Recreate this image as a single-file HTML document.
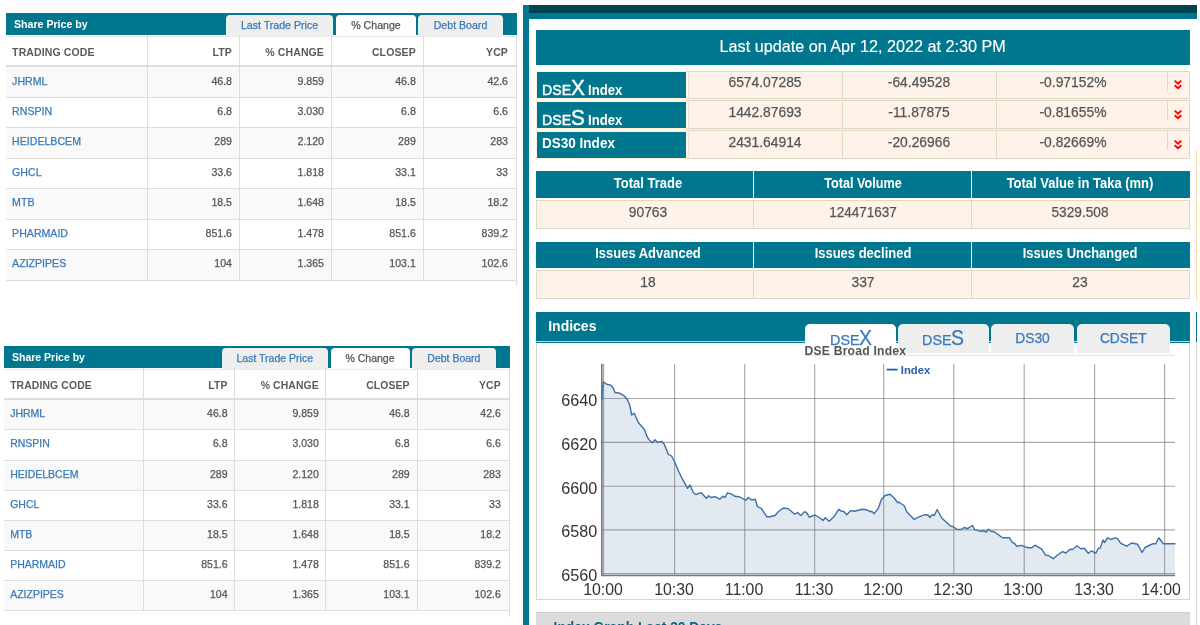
<!DOCTYPE html>
<html lang="en">
<head>
<meta charset="utf-8">
<title>DSE Share Price and Indices</title>
<style>
html,body{margin:0;padding:0;background:#fff}
body{width:1200px;height:625px;position:relative;overflow:hidden;font-family:"Liberation Sans",sans-serif;color:#555}
div,svg{position:absolute;box-sizing:border-box}
.sp,.rp{left:0;top:0;width:0;height:0}
.t{line-height:20px;height:20px;white-space:nowrap;color:#555;-webkit-text-stroke:0.25px}
.bd,.h,.ttl,.ct,.ig,.lg,.ax,.w.bd{-webkit-text-stroke:0}
.ttl{color:#fff;font-weight:bold}
.tabt{color:#3a7ab8}
.tabt.act{color:#555}
.h{font-weight:bold;color:#5c5a59;letter-spacing:0.12px}
.code,.lk{color:#3a7ab8}
.w{color:#fff;-webkit-text-stroke:0.45px}
.bd{font-weight:bold}
.w.lu{-webkit-text-stroke:0.15px}
.d1{font-size:13.8px}
.d3{font-size:12.9px;font-weight:bold}
.t1{font-size:13.6px}
.ct{font-weight:bold;letter-spacing:0.2px;color:#555}
.ig{font-weight:bold;color:#00688c}
.lg{font-weight:bold;color:#2a62ad}
.ax{color:#333}
.chart{left:0;top:0}
</style>
</head>
<body>
<div class="sp ta">
<div style="left:6px;top:13px;width:511px;height:22px;background:#00778f;"></div>
<div class="t ttl" style="left:14px;top:14px;font-size:10.6px;">Share Price by</div>
<div style="left:226px;top:15px;width:107px;height:21px;background:#eee;border-radius:4px 4px 0 0"></div>
<div class="t tabt" style="left:79.5px;width:400px;text-align:center;top:15px;font-size:10.6px;">Last Trade Price</div>
<div style="left:336px;top:15px;width:80px;height:21px;background:#fff;border-radius:4px 4px 0 0"></div>
<div class="t tabt act" style="left:176px;width:400px;text-align:center;top:15px;font-size:10.6px;">% Change</div>
<div style="left:418px;top:15px;width:85px;height:21px;background:#eee;border-radius:4px 4px 0 0"></div>
<div class="t tabt" style="left:260.5px;width:400px;text-align:center;top:15px;font-size:10.6px;">Debt Board</div>
<div style="left:6px;top:36px;width:510.5px;height:1px;background:#ebebeb;"></div>
<div style="left:6px;top:66.3px;width:510.5px;height:31px;background:#f9f9f9;"></div>
<div style="left:6px;top:127.6px;width:510.5px;height:30.4px;background:#f9f9f9;"></div>
<div style="left:6px;top:188.4px;width:510.5px;height:30.8px;background:#f9f9f9;"></div>
<div style="left:6px;top:249.6px;width:510.5px;height:30.4px;background:#f9f9f9;"></div>
<div style="left:6px;top:65px;width:510.5px;height:2px;background:#dedede;"></div>
<div style="left:6px;top:96.8px;width:510.5px;height:1px;background:#ddd;"></div>
<div style="left:6px;top:127.1px;width:510.5px;height:1px;background:#ddd;"></div>
<div style="left:6px;top:157.5px;width:510.5px;height:1px;background:#ddd;"></div>
<div style="left:6px;top:187.9px;width:510.5px;height:1px;background:#ddd;"></div>
<div style="left:6px;top:218.7px;width:510.5px;height:1px;background:#ddd;"></div>
<div style="left:6px;top:249.1px;width:510.5px;height:1px;background:#ddd;"></div>
<div style="left:6px;top:279.5px;width:510.5px;height:1px;background:#ddd;"></div>
<div style="left:146.8px;top:35px;width:1px;height:245px;background:#ddd;"></div>
<div style="left:238.8px;top:35px;width:1px;height:245px;background:#ddd;"></div>
<div style="left:330.8px;top:35px;width:1px;height:245px;background:#ddd;"></div>
<div style="left:422.8px;top:35px;width:1px;height:245px;background:#ddd;"></div>
<div style="left:516px;top:35px;width:1px;height:251px;background:#ddd;"></div>
<div class="t h" style="left:12.1px;top:42px;font-size:10.5px;">TRADING CODE</div>
<div class="t h" style="left:-68px;width:300px;text-align:right;top:42px;font-size:10.5px;">LTP</div>
<div class="t h" style="left:24px;width:300px;text-align:right;top:42px;font-size:10.5px;">% CHANGE</div>
<div class="t h" style="left:115.8px;width:300px;text-align:right;top:42px;font-size:10.5px;">CLOSEP</div>
<div class="t h" style="left:208px;width:300px;text-align:right;top:42px;font-size:10.5px;">YCP</div>
<div class="t code" style="left:12.1px;top:71px;font-size:10.6px;">JHRML</div>
<div class="t n" style="left:-68px;width:300px;text-align:right;top:71px;font-size:10.6px;">46.8</div>
<div class="t n" style="left:24px;width:300px;text-align:right;top:71px;font-size:10.6px;">9.859</div>
<div class="t n" style="left:115.8px;width:300px;text-align:right;top:71px;font-size:10.6px;">46.8</div>
<div class="t n" style="left:208px;width:300px;text-align:right;top:71px;font-size:10.6px;">42.6</div>
<div class="t code" style="left:12.1px;top:101px;font-size:10.6px;">RNSPIN</div>
<div class="t n" style="left:-68px;width:300px;text-align:right;top:101px;font-size:10.6px;">6.8</div>
<div class="t n" style="left:24px;width:300px;text-align:right;top:101px;font-size:10.6px;">3.030</div>
<div class="t n" style="left:115.8px;width:300px;text-align:right;top:101px;font-size:10.6px;">6.8</div>
<div class="t n" style="left:208px;width:300px;text-align:right;top:101px;font-size:10.6px;">6.6</div>
<div class="t code" style="left:12.1px;top:131px;font-size:10.6px;">HEIDELBCEM</div>
<div class="t n" style="left:-68px;width:300px;text-align:right;top:131px;font-size:10.6px;">289</div>
<div class="t n" style="left:24px;width:300px;text-align:right;top:131px;font-size:10.6px;">2.120</div>
<div class="t n" style="left:115.8px;width:300px;text-align:right;top:131px;font-size:10.6px;">289</div>
<div class="t n" style="left:208px;width:300px;text-align:right;top:131px;font-size:10.6px;">283</div>
<div class="t code" style="left:12.1px;top:162px;font-size:10.6px;">GHCL</div>
<div class="t n" style="left:-68px;width:300px;text-align:right;top:162px;font-size:10.6px;">33.6</div>
<div class="t n" style="left:24px;width:300px;text-align:right;top:162px;font-size:10.6px;">1.818</div>
<div class="t n" style="left:115.8px;width:300px;text-align:right;top:162px;font-size:10.6px;">33.1</div>
<div class="t n" style="left:208px;width:300px;text-align:right;top:162px;font-size:10.6px;">33</div>
<div class="t code" style="left:12.1px;top:192px;font-size:10.6px;">MTB</div>
<div class="t n" style="left:-68px;width:300px;text-align:right;top:192px;font-size:10.6px;">18.5</div>
<div class="t n" style="left:24px;width:300px;text-align:right;top:192px;font-size:10.6px;">1.648</div>
<div class="t n" style="left:115.8px;width:300px;text-align:right;top:192px;font-size:10.6px;">18.5</div>
<div class="t n" style="left:208px;width:300px;text-align:right;top:192px;font-size:10.6px;">18.2</div>
<div class="t code" style="left:12.1px;top:223px;font-size:10.6px;">PHARMAID</div>
<div class="t n" style="left:-68px;width:300px;text-align:right;top:223px;font-size:10.6px;">851.6</div>
<div class="t n" style="left:24px;width:300px;text-align:right;top:223px;font-size:10.6px;">1.478</div>
<div class="t n" style="left:115.8px;width:300px;text-align:right;top:223px;font-size:10.6px;">851.6</div>
<div class="t n" style="left:208px;width:300px;text-align:right;top:223px;font-size:10.6px;">839.2</div>
<div class="t code" style="left:12.1px;top:253px;font-size:10.6px;">AZIZPIPES</div>
<div class="t n" style="left:-68px;width:300px;text-align:right;top:253px;font-size:10.6px;">104</div>
<div class="t n" style="left:24px;width:300px;text-align:right;top:253px;font-size:10.6px;">1.365</div>
<div class="t n" style="left:115.8px;width:300px;text-align:right;top:253px;font-size:10.6px;">103.1</div>
<div class="t n" style="left:208px;width:300px;text-align:right;top:253px;font-size:10.6px;">102.6</div>
</div>
<div class="sp tb">
<div style="left:4.25px;top:346px;width:505.75px;height:22px;background:#00778f;"></div>
<div class="t ttl" style="left:12px;top:347px;font-size:10.5px;">Share Price by</div>
<div style="left:221.5px;top:348px;width:106.5px;height:21px;background:#eee;border-radius:4px 4px 0 0"></div>
<div class="t tabt" style="left:74.75px;width:400px;text-align:center;top:348px;font-size:10.5px;">Last Trade Price</div>
<div style="left:330.5px;top:348px;width:79px;height:21px;background:#fff;border-radius:4px 4px 0 0"></div>
<div class="t tabt act" style="left:170px;width:400px;text-align:center;top:348px;font-size:10.5px;">% Change</div>
<div style="left:412px;top:348px;width:83.8px;height:21px;background:#eee;border-radius:4px 4px 0 0"></div>
<div class="t tabt" style="left:253.9px;width:400px;text-align:center;top:348px;font-size:10.5px;">Debt Board</div>
<div style="left:4.25px;top:369px;width:504.75px;height:1px;background:#ebebeb;"></div>
<div style="left:4.25px;top:399.5px;width:504.75px;height:30.1px;background:#f9f9f9;"></div>
<div style="left:4.25px;top:460px;width:504.75px;height:30.3px;background:#f9f9f9;"></div>
<div style="left:4.25px;top:520.3px;width:504.75px;height:30px;background:#f9f9f9;"></div>
<div style="left:4.25px;top:580.4px;width:504.75px;height:30.1px;background:#f9f9f9;"></div>
<div style="left:4.25px;top:398px;width:504.75px;height:2px;background:#dedede;"></div>
<div style="left:4.25px;top:429.1px;width:504.75px;height:1px;background:#ddd;"></div>
<div style="left:4.25px;top:459.5px;width:504.75px;height:1px;background:#ddd;"></div>
<div style="left:4.25px;top:489.8px;width:504.75px;height:1px;background:#ddd;"></div>
<div style="left:4.25px;top:519.8px;width:504.75px;height:1px;background:#ddd;"></div>
<div style="left:4.25px;top:549.8px;width:504.75px;height:1px;background:#ddd;"></div>
<div style="left:4.25px;top:579.9px;width:504.75px;height:1px;background:#ddd;"></div>
<div style="left:4.25px;top:610px;width:504.75px;height:1px;background:#ddd;"></div>
<div style="left:143px;top:368px;width:1px;height:242.5px;background:#ddd;"></div>
<div style="left:234.4px;top:368px;width:1px;height:242.5px;background:#ddd;"></div>
<div style="left:325.4px;top:368px;width:1px;height:242.5px;background:#ddd;"></div>
<div style="left:417px;top:368px;width:1px;height:242.5px;background:#ddd;"></div>
<div style="left:508.5px;top:368px;width:1px;height:248.5px;background:#ddd;"></div>
<div class="t h" style="left:10.15px;top:376px;font-size:10.4px;">TRADING CODE</div>
<div class="t h" style="left:-72.5px;width:300px;text-align:right;top:376px;font-size:10.4px;">LTP</div>
<div class="t h" style="left:18.8px;width:300px;text-align:right;top:376px;font-size:10.4px;">% CHANGE</div>
<div class="t h" style="left:109.6px;width:300px;text-align:right;top:376px;font-size:10.4px;">CLOSEP</div>
<div class="t h" style="left:200.8px;width:300px;text-align:right;top:376px;font-size:10.4px;">YCP</div>
<div class="t code" style="left:10.15px;top:403px;font-size:10.5px;">JHRML</div>
<div class="t n" style="left:-72.5px;width:300px;text-align:right;top:403px;font-size:10.5px;">46.8</div>
<div class="t n" style="left:18.8px;width:300px;text-align:right;top:403px;font-size:10.5px;">9.859</div>
<div class="t n" style="left:109.6px;width:300px;text-align:right;top:403px;font-size:10.5px;">46.8</div>
<div class="t n" style="left:200.8px;width:300px;text-align:right;top:403px;font-size:10.5px;">42.6</div>
<div class="t code" style="left:10.15px;top:433px;font-size:10.5px;">RNSPIN</div>
<div class="t n" style="left:-72.5px;width:300px;text-align:right;top:433px;font-size:10.5px;">6.8</div>
<div class="t n" style="left:18.8px;width:300px;text-align:right;top:433px;font-size:10.5px;">3.030</div>
<div class="t n" style="left:109.6px;width:300px;text-align:right;top:433px;font-size:10.5px;">6.8</div>
<div class="t n" style="left:200.8px;width:300px;text-align:right;top:433px;font-size:10.5px;">6.6</div>
<div class="t code" style="left:10.15px;top:464px;font-size:10.5px;">HEIDELBCEM</div>
<div class="t n" style="left:-72.5px;width:300px;text-align:right;top:464px;font-size:10.5px;">289</div>
<div class="t n" style="left:18.8px;width:300px;text-align:right;top:464px;font-size:10.5px;">2.120</div>
<div class="t n" style="left:109.6px;width:300px;text-align:right;top:464px;font-size:10.5px;">289</div>
<div class="t n" style="left:200.8px;width:300px;text-align:right;top:464px;font-size:10.5px;">283</div>
<div class="t code" style="left:10.15px;top:494px;font-size:10.5px;">GHCL</div>
<div class="t n" style="left:-72.5px;width:300px;text-align:right;top:494px;font-size:10.5px;">33.6</div>
<div class="t n" style="left:18.8px;width:300px;text-align:right;top:494px;font-size:10.5px;">1.818</div>
<div class="t n" style="left:109.6px;width:300px;text-align:right;top:494px;font-size:10.5px;">33.1</div>
<div class="t n" style="left:200.8px;width:300px;text-align:right;top:494px;font-size:10.5px;">33</div>
<div class="t code" style="left:10.15px;top:524px;font-size:10.5px;">MTB</div>
<div class="t n" style="left:-72.5px;width:300px;text-align:right;top:524px;font-size:10.5px;">18.5</div>
<div class="t n" style="left:18.8px;width:300px;text-align:right;top:524px;font-size:10.5px;">1.648</div>
<div class="t n" style="left:109.6px;width:300px;text-align:right;top:524px;font-size:10.5px;">18.5</div>
<div class="t n" style="left:200.8px;width:300px;text-align:right;top:524px;font-size:10.5px;">18.2</div>
<div class="t code" style="left:10.15px;top:554px;font-size:10.5px;">PHARMAID</div>
<div class="t n" style="left:-72.5px;width:300px;text-align:right;top:554px;font-size:10.5px;">851.6</div>
<div class="t n" style="left:18.8px;width:300px;text-align:right;top:554px;font-size:10.5px;">1.478</div>
<div class="t n" style="left:109.6px;width:300px;text-align:right;top:554px;font-size:10.5px;">851.6</div>
<div class="t n" style="left:200.8px;width:300px;text-align:right;top:554px;font-size:10.5px;">839.2</div>
<div class="t code" style="left:10.15px;top:584px;font-size:10.5px;">AZIZPIPES</div>
<div class="t n" style="left:-72.5px;width:300px;text-align:right;top:584px;font-size:10.5px;">104</div>
<div class="t n" style="left:18.8px;width:300px;text-align:right;top:584px;font-size:10.5px;">1.365</div>
<div class="t n" style="left:109.6px;width:300px;text-align:right;top:584px;font-size:10.5px;">103.1</div>
<div class="t n" style="left:200.8px;width:300px;text-align:right;top:584px;font-size:10.5px;">102.6</div>
</div>
<div class="rp">
<div style="left:523px;top:5px;width:6px;height:620px;background:#00778f;"></div>
<div style="left:529px;top:5px;width:668px;height:8px;background:#00444f;"></div>
<div style="left:529px;top:13px;width:668px;height:6px;background:#00778f;"></div>
<div style="left:536px;top:30px;width:654px;height:35px;background:#00778f;"></div>
<div class="t w lu" style="left:662.7px;width:400px;text-align:center;top:36px;font-size:16.2px;">Last update on Apr 12, 2022 at 2:30 PM</div>
<div style="left:688px;top:99px;width:502px;height:1px;background:#f3f1e8;"></div>
<div style="left:688px;top:129px;width:502px;height:1px;background:#f3f1e8;"></div>
<div style="left:536px;top:99px;width:152px;height:1px;background:#fffbf0;"></div>
<div style="left:536px;top:129px;width:152px;height:1px;background:#fffbf0;"></div>
<div style="left:536px;top:71px;width:654px;height:28px;background:#fff2e8;border:1px solid #ddd9c5"></div>
<div style="left:536px;top:71px;width:150px;height:28px;background:#fcf1de;"></div>
<div style="left:537px;top:72px;width:149px;height:26px;background:#00778f;"></div>
<div style="left:686px;top:72px;width:2px;height:26px;background:#fffaf0;"></div>
<div style="left:688px;top:72px;width:1px;height:26px;background:#ebe6d6;"></div>
<div class="t w" style="left:541.6px;top:80px;font-size:14.8px;transform:scaleX(0.955);transform-origin:0 0;">DSE</div>
<div class="t w" style="left:571px;top:78px;font-size:22px;transform:scaleX(0.94);transform-origin:0 0;">X</div>
<div class="t w bd" style="left:587.6px;top:80px;font-size:14.4px;transform:scaleX(0.91);transform-origin:0 0;">Index</div>
<div class="t v" style="left:564.6px;width:400px;text-align:center;top:72px;font-size:14.4px;transform:scaleX(0.962);transform-origin:50% 0;">6574.07285</div>
<div class="t v" style="left:719.1px;width:400px;text-align:center;top:72px;font-size:14.4px;transform:scaleX(0.962);transform-origin:50% 0;">-64.49528</div>
<div class="t v" style="left:873.2px;width:400px;text-align:center;top:72px;font-size:14.4px;transform:scaleX(0.962);transform-origin:50% 0;">-0.97152%</div>
<div style="left:841.9px;top:72px;width:1px;height:26px;background:#ddd9c5;"></div>
<div style="left:995.9px;top:72px;width:1px;height:26px;background:#ddd9c5;"></div>
<div style="left:1167px;top:72px;width:1px;height:19px;background:#ddd9c5;"></div>
<svg style="left:1171.9px;top:79px" width="12" height="12" viewBox="0 0 12 12"><path d="M2.7 1.6 L6 4.7 L9.3 1.6 M2.7 6.2 L6 9.3 L9.3 6.2" fill="none" stroke="#f00" stroke-width="1.9"/></svg>
<div style="left:536px;top:100px;width:654px;height:29px;background:#fff2e8;border:1px solid #ddd9c5"></div>
<div style="left:536px;top:100px;width:150px;height:29px;background:#fcf1de;"></div>
<div style="left:537px;top:102px;width:149px;height:26px;background:#00778f;"></div>
<div style="left:686px;top:101px;width:2px;height:27px;background:#fffaf0;"></div>
<div style="left:688px;top:101px;width:1px;height:27px;background:#ebe6d6;"></div>
<div class="t w" style="left:541.6px;top:110px;font-size:14.8px;transform:scaleX(0.955);transform-origin:0 0;">DSE</div>
<div class="t w" style="left:571px;top:108px;font-size:22px;transform:scaleX(0.94);transform-origin:0 0;">S</div>
<div class="t w bd" style="left:587.6px;top:110px;font-size:14.4px;transform:scaleX(0.91);transform-origin:0 0;">Index</div>
<div class="t v" style="left:564.6px;width:400px;text-align:center;top:102px;font-size:14.4px;transform:scaleX(0.962);transform-origin:50% 0;">1442.87693</div>
<div class="t v" style="left:719.1px;width:400px;text-align:center;top:102px;font-size:14.4px;transform:scaleX(0.962);transform-origin:50% 0;">-11.87875</div>
<div class="t v" style="left:873.2px;width:400px;text-align:center;top:102px;font-size:14.4px;transform:scaleX(0.962);transform-origin:50% 0;">-0.81655%</div>
<div style="left:841.9px;top:101px;width:1px;height:27px;background:#ddd9c5;"></div>
<div style="left:995.9px;top:101px;width:1px;height:27px;background:#ddd9c5;"></div>
<div style="left:1167px;top:101px;width:1px;height:19px;background:#ddd9c5;"></div>
<svg style="left:1171.9px;top:109px" width="12" height="12" viewBox="0 0 12 12"><path d="M2.7 1.6 L6 4.7 L9.3 1.6 M2.7 6.2 L6 9.3 L9.3 6.2" fill="none" stroke="#f00" stroke-width="1.9"/></svg>
<div style="left:536px;top:130px;width:654px;height:29px;background:#fff2e8;border:1px solid #ddd9c5"></div>
<div style="left:536px;top:130px;width:150px;height:29px;background:#fcf1de;"></div>
<div style="left:537px;top:132px;width:149px;height:26px;background:#00778f;"></div>
<div style="left:686px;top:131px;width:2px;height:27px;background:#fffaf0;"></div>
<div style="left:688px;top:131px;width:1px;height:27px;background:#ebe6d6;"></div>
<div class="t w bd" style="left:541.5px;top:133px;font-size:14.4px;transform:scaleX(0.94);transform-origin:0 0;">DS30 Index</div>
<div class="t v" style="left:564.6px;width:400px;text-align:center;top:132px;font-size:14.4px;transform:scaleX(0.962);transform-origin:50% 0;">2431.64914</div>
<div class="t v" style="left:719.1px;width:400px;text-align:center;top:132px;font-size:14.4px;transform:scaleX(0.962);transform-origin:50% 0;">-20.26966</div>
<div class="t v" style="left:873.2px;width:400px;text-align:center;top:132px;font-size:14.4px;transform:scaleX(0.962);transform-origin:50% 0;">-0.82669%</div>
<div style="left:841.9px;top:131px;width:1px;height:27px;background:#ddd9c5;"></div>
<div style="left:995.9px;top:131px;width:1px;height:27px;background:#ddd9c5;"></div>
<div style="left:1167px;top:131px;width:1px;height:19px;background:#ddd9c5;"></div>
<svg style="left:1171.9px;top:139px" width="12" height="12" viewBox="0 0 12 12"><path d="M2.7 1.6 L6 4.7 L9.3 1.6 M2.7 6.2 L6 9.3 L9.3 6.2" fill="none" stroke="#f00" stroke-width="1.9"/></svg>
<div style="left:536px;top:171px;width:217px;height:27px;background:#00778f;"></div>
<div class="t w bd" style="left:448.3px;width:400px;text-align:center;top:173px;font-size:14.2px;transform:scaleX(0.915);transform-origin:50% 0;">Total Trade</div>
<div style="left:536px;top:200px;width:218px;height:29px;background:#fff2e8;border:1px solid #ddd9c5"></div>
<div class="t v" style="left:448.3px;width:400px;text-align:center;top:202px;font-size:14.4px;transform:scaleX(0.962);transform-origin:50% 0;">90763</div>
<div style="left:754px;top:171px;width:217px;height:27px;background:#00778f;"></div>
<div class="t w bd" style="left:663.2px;width:400px;text-align:center;top:173px;font-size:14.2px;transform:scaleX(0.891);transform-origin:50% 0;">Total Volume</div>
<div style="left:753px;top:200px;width:219px;height:29px;background:#fff2e8;border:1px solid #ddd9c5"></div>
<div class="t v" style="left:663.2px;width:400px;text-align:center;top:202px;font-size:14.4px;transform:scaleX(0.937);transform-origin:50% 0;">124471637</div>
<div style="left:972px;top:171px;width:218px;height:27px;background:#00778f;"></div>
<div class="t w bd" style="left:880.3px;width:400px;text-align:center;top:173px;font-size:14.2px;transform:scaleX(0.915);transform-origin:50% 0;">Total Value in Taka (mn)</div>
<div style="left:971px;top:200px;width:219px;height:29px;background:#fff2e8;border:1px solid #ddd9c5"></div>
<div class="t v" style="left:880.3px;width:400px;text-align:center;top:202px;font-size:14.4px;transform:scaleX(0.95);transform-origin:50% 0;">5329.508</div>
<div style="left:536px;top:242px;width:217px;height:26px;background:#00778f;"></div>
<div class="t w bd" style="left:448px;width:400px;text-align:center;top:243px;font-size:14.2px;transform:scaleX(0.915);transform-origin:50% 0;">Issues Advanced</div>
<div style="left:536px;top:270px;width:218px;height:29px;background:#fff2e8;border:1px solid #ddd9c5"></div>
<div class="t v" style="left:448px;width:400px;text-align:center;top:272px;font-size:14.4px;transform:scaleX(0.962);transform-origin:50% 0;">18</div>
<div style="left:754px;top:242px;width:217px;height:26px;background:#00778f;"></div>
<div class="t w bd" style="left:662.8px;width:400px;text-align:center;top:243px;font-size:14.2px;transform:scaleX(0.915);transform-origin:50% 0;">Issues declined</div>
<div style="left:753px;top:270px;width:219px;height:29px;background:#fff2e8;border:1px solid #ddd9c5"></div>
<div class="t v" style="left:662.8px;width:400px;text-align:center;top:272px;font-size:14.4px;transform:scaleX(0.962);transform-origin:50% 0;">337</div>
<div style="left:972px;top:242px;width:218px;height:26px;background:#00778f;"></div>
<div class="t w bd" style="left:879.9px;width:400px;text-align:center;top:243px;font-size:14.2px;transform:scaleX(0.915);transform-origin:50% 0;">Issues Unchanged</div>
<div style="left:971px;top:270px;width:219px;height:29px;background:#fff2e8;border:1px solid #ddd9c5"></div>
<div class="t v" style="left:879.9px;width:400px;text-align:center;top:272px;font-size:14.4px;transform:scaleX(0.962);transform-origin:50% 0;">23</div>
<div style="left:1196px;top:150px;width:1px;height:151px;background:#f8dca8;"></div>
<div style="left:1196px;top:312px;width:1px;height:30px;background:#00778f;"></div>
<div style="left:1196px;top:342px;width:1px;height:283px;background:#dbd8ca;"></div>
<div style="left:536px;top:312px;width:654px;height:31px;background:#00778f;"></div>
<div class="t w bd" style="left:548.2px;top:316px;font-size:14px;">Indices</div>
<div style="left:536px;top:343px;width:654px;height:257px;background:#fff;border:1px solid #d9d6c6;border-top:0"></div>
<div style="left:536px;top:341px;width:654px;height:1px;background:#cfd3c0;"></div>
<div style="left:805px;top:355px;width:370px;height:1px;background:#e4e4e4;"></div>
<div style="left:805.2px;top:323.7px;width:90.8px;height:31.5px;background:#fff;border-radius:5px 5px 0 0"></div>
<div class="t lk" style="left:829.6px;top:330px;font-size:14.6px;transform:scaleX(0.985);transform-origin:0 0;">DSE</div>
<div class="t lk" style="left:859.1px;top:328px;font-size:21.2px;transform:scaleX(0.92);transform-origin:0 0;">X</div>
<div style="left:898.3px;top:323.7px;width:90.7px;height:29.3px;background:#eee;border-radius:5px 5px 0 0"></div>
<div class="t lk" style="left:921.6px;top:330px;font-size:14.6px;transform:scaleX(0.985);transform-origin:0 0;">DSE</div>
<div class="t lk" style="left:951px;top:328px;font-size:21.2px;transform:scaleX(0.92);transform-origin:0 0;">S</div>
<div style="left:991px;top:323.7px;width:83px;height:29.3px;background:#eee;border-radius:5px 5px 0 0"></div>
<div class="t lk" style="left:832.5px;width:400px;text-align:center;top:329px;font-size:13.8px;">DS30</div>
<div style="left:1076.6px;top:323.7px;width:93.4px;height:29.3px;background:#eee;border-radius:5px 5px 0 0"></div>
<div class="t lk" style="left:923.3px;width:400px;text-align:center;top:329px;font-size:13.8px;">CDSET</div>
<div class="t ct" style="left:804.4px;top:341px;font-size:12.2px;">DSE Broad Index</div>
<svg class="chart" width="1200" height="625" viewBox="0 0 1200 625">
<line x1="603.6" y1="363.8" x2="603.6" y2="574.5" stroke="#747474" stroke-opacity="0.62" stroke-width="1.15"/>
<line x1="674.6" y1="363.8" x2="674.6" y2="574.5" stroke="#747474" stroke-opacity="0.62" stroke-width="1.15"/>
<line x1="744.7" y1="363.8" x2="744.7" y2="574.5" stroke="#747474" stroke-opacity="0.62" stroke-width="1.15"/>
<line x1="814.7" y1="363.8" x2="814.7" y2="574.5" stroke="#747474" stroke-opacity="0.62" stroke-width="1.15"/>
<line x1="883.7" y1="363.8" x2="883.7" y2="574.5" stroke="#747474" stroke-opacity="0.62" stroke-width="1.15"/>
<line x1="953.8" y1="363.8" x2="953.8" y2="574.5" stroke="#747474" stroke-opacity="0.62" stroke-width="1.15"/>
<line x1="1024.2" y1="363.8" x2="1024.2" y2="574.5" stroke="#747474" stroke-opacity="0.62" stroke-width="1.15"/>
<line x1="1094.6" y1="363.8" x2="1094.6" y2="574.5" stroke="#747474" stroke-opacity="0.62" stroke-width="1.15"/>
<line x1="1164.6" y1="363.8" x2="1164.6" y2="574.5" stroke="#747474" stroke-opacity="0.62" stroke-width="1.15"/>
<line x1="601.5" y1="398.5" x2="1175" y2="398.5" stroke="#747474" stroke-opacity="0.62" stroke-width="1.15"/>
<line x1="601.5" y1="442.3" x2="1175" y2="442.3" stroke="#747474" stroke-opacity="0.62" stroke-width="1.15"/>
<line x1="601.5" y1="486.2" x2="1175" y2="486.2" stroke="#747474" stroke-opacity="0.62" stroke-width="1.15"/>
<line x1="601.5" y1="529.9" x2="1175" y2="529.9" stroke="#747474" stroke-opacity="0.62" stroke-width="1.15"/>
<line x1="601.5" y1="573.6" x2="1175" y2="573.6" stroke="#747474" stroke-opacity="0.62" stroke-width="1.15"/>
<polygon points="602.5,574.5 601.7,400 603.3,381.7 606.7,384.2 610.8,385.3 613.3,388.3 615,392.5 620,393.3 624.2,395.8 627.5,400 629.7,405 631.7,415 634.2,413.3 638.3,422.5 644.2,429.2 647.5,437.5 650,440.8 652.5,442.8 655,439.7 657.5,442.5 661.7,441.3 664.2,444.2 668.3,454.2 671.5,456 675,462.5 678.3,470.8 682.5,479.2 687.5,488.3 690,485 693.3,492.5 695.8,494.5 701.3,492.7 706.3,498.3 708.7,495.8 710.8,497.5 715,496.7 719.7,499.2 723,496.2 725,497.5 727.5,492.8 731.7,494.2 735,496.3 740,497 745.8,500.3 748.3,497.5 751.7,500 755.3,499.2 757.5,506.7 761.3,508.3 766.7,516.7 770,516.8 775,515.5 778.3,511.7 783.3,508 788.3,508.8 794.7,514.2 797.5,512.5 800.8,515.5 804.7,511.7 806.7,512.8 809.2,517.2 815,515 820,518 823,520.5 825.3,517.8 829.2,521.2 834.2,516.3 838.7,509.3 841.7,511.3 844.2,511.7 846.7,514.7 850.8,510.6 854.2,511.3 862.5,509.2 867.5,510 870,511.7 871.7,511.3 874.2,513.7 878.3,508.3 881.3,499.7 885,495.5 890,494.2 894.2,498 897.5,502.5 899.2,502.2 904.2,505.8 906.7,511.7 914.2,519.5 918.3,517.2 925,514.7 928,515 930,517.5 932.2,514.7 934.2,515.5 937.2,509.5 941.7,518 950.8,526.3 953.3,526.7 956.7,529.2 960.8,529.5 964.2,527.5 967.5,528.7 972.5,525.5 974.7,529.7 980,531.2 984.2,530.8 986.3,532.2 988.3,529.2 990.8,531.3 994.2,531.7 1002.5,537.8 1009.5,537.8 1012.5,542.7 1014.2,543 1016.7,546.2 1021.7,545.4 1028.3,547.8 1031.7,547.8 1035,545.2 1041.7,549.2 1045.8,555.3 1048.3,555.5 1053.3,558.7 1057.5,555 1062.5,551.7 1065.8,553 1070,549.2 1072.5,549.5 1077,545.8 1080.8,548.7 1084.2,548.3 1088.3,553.3 1091.7,550.8 1095.8,553.3 1098.3,548.3 1100.3,548 1103,540 1104.7,542.5 1107.5,537.8 1110.8,539.5 1115,537.8 1117.5,538.7 1120.8,543.3 1126.7,546.2 1131.7,543 1137.5,544.2 1142.2,552.5 1145,547.5 1150,545 1153.3,543.7 1155.8,543.8 1158.7,537.8 1163.3,543.7 1175,543.8 1175,574.5" fill="#4a76aa" fill-opacity="0.16"/>
<line x1="601.8" y1="363.8" x2="601.8" y2="576.0" stroke="#777" stroke-width="1.6"/>
<line x1="601.0" y1="575.5" x2="1175" y2="575.5" stroke="#777" stroke-width="1.6"/>
<polyline points="601.7,400 603.3,381.7 606.7,384.2 610.8,385.3 613.3,388.3 615,392.5 620,393.3 624.2,395.8 627.5,400 629.7,405 631.7,415 634.2,413.3 638.3,422.5 644.2,429.2 647.5,437.5 650,440.8 652.5,442.8 655,439.7 657.5,442.5 661.7,441.3 664.2,444.2 668.3,454.2 671.5,456 675,462.5 678.3,470.8 682.5,479.2 687.5,488.3 690,485 693.3,492.5 695.8,494.5 701.3,492.7 706.3,498.3 708.7,495.8 710.8,497.5 715,496.7 719.7,499.2 723,496.2 725,497.5 727.5,492.8 731.7,494.2 735,496.3 740,497 745.8,500.3 748.3,497.5 751.7,500 755.3,499.2 757.5,506.7 761.3,508.3 766.7,516.7 770,516.8 775,515.5 778.3,511.7 783.3,508 788.3,508.8 794.7,514.2 797.5,512.5 800.8,515.5 804.7,511.7 806.7,512.8 809.2,517.2 815,515 820,518 823,520.5 825.3,517.8 829.2,521.2 834.2,516.3 838.7,509.3 841.7,511.3 844.2,511.7 846.7,514.7 850.8,510.6 854.2,511.3 862.5,509.2 867.5,510 870,511.7 871.7,511.3 874.2,513.7 878.3,508.3 881.3,499.7 885,495.5 890,494.2 894.2,498 897.5,502.5 899.2,502.2 904.2,505.8 906.7,511.7 914.2,519.5 918.3,517.2 925,514.7 928,515 930,517.5 932.2,514.7 934.2,515.5 937.2,509.5 941.7,518 950.8,526.3 953.3,526.7 956.7,529.2 960.8,529.5 964.2,527.5 967.5,528.7 972.5,525.5 974.7,529.7 980,531.2 984.2,530.8 986.3,532.2 988.3,529.2 990.8,531.3 994.2,531.7 1002.5,537.8 1009.5,537.8 1012.5,542.7 1014.2,543 1016.7,546.2 1021.7,545.4 1028.3,547.8 1031.7,547.8 1035,545.2 1041.7,549.2 1045.8,555.3 1048.3,555.5 1053.3,558.7 1057.5,555 1062.5,551.7 1065.8,553 1070,549.2 1072.5,549.5 1077,545.8 1080.8,548.7 1084.2,548.3 1088.3,553.3 1091.7,550.8 1095.8,553.3 1098.3,548.3 1100.3,548 1103,540 1104.7,542.5 1107.5,537.8 1110.8,539.5 1115,537.8 1117.5,538.7 1120.8,543.3 1126.7,546.2 1131.7,543 1137.5,544.2 1142.2,552.5 1145,547.5 1150,545 1153.3,543.7 1155.8,543.8 1158.7,537.8 1163.3,543.7 1175,543.8" fill="none" stroke="#3d70a8" stroke-width="1.4" stroke-linejoin="round" stroke-linecap="round"/>
<line x1="886.7" y1="369.6" x2="897.5" y2="369.6" stroke="#1f5ba8" stroke-width="1.8"/>
</svg>
<div class="t lg" style="left:900.8px;top:360px;font-size:11.3px;">Index</div>
<div class="t ax" style="left:297.3px;width:300px;text-align:right;top:390px;font-size:16.2px;">6640</div>
<div class="t ax" style="left:297.3px;width:300px;text-align:right;top:434px;font-size:16.2px;">6620</div>
<div class="t ax" style="left:297.3px;width:300px;text-align:right;top:478px;font-size:16.2px;">6600</div>
<div class="t ax" style="left:297.3px;width:300px;text-align:right;top:521px;font-size:16.2px;">6580</div>
<div class="t ax" style="left:297.3px;width:300px;text-align:right;top:565px;font-size:16.2px;">6560</div>
<div class="t ax" style="left:402.6px;width:400px;text-align:center;top:579px;font-size:16.2px;transform:scaleX(0.98);transform-origin:50% 0;">10:00</div>
<div class="t ax" style="left:473.6px;width:400px;text-align:center;top:579px;font-size:16.2px;transform:scaleX(0.98);transform-origin:50% 0;">10:30</div>
<div class="t ax" style="left:543.7px;width:400px;text-align:center;top:579px;font-size:16.2px;transform:scaleX(0.98);transform-origin:50% 0;">11:00</div>
<div class="t ax" style="left:613.7px;width:400px;text-align:center;top:579px;font-size:16.2px;transform:scaleX(0.98);transform-origin:50% 0;">11:30</div>
<div class="t ax" style="left:682.7px;width:400px;text-align:center;top:579px;font-size:16.2px;transform:scaleX(0.98);transform-origin:50% 0;">12:00</div>
<div class="t ax" style="left:752.8px;width:400px;text-align:center;top:579px;font-size:16.2px;transform:scaleX(0.98);transform-origin:50% 0;">12:30</div>
<div class="t ax" style="left:823.2px;width:400px;text-align:center;top:579px;font-size:16.2px;transform:scaleX(0.98);transform-origin:50% 0;">13:00</div>
<div class="t ax" style="left:893.6px;width:400px;text-align:center;top:579px;font-size:16.2px;transform:scaleX(0.98);transform-origin:50% 0;">13:30</div>
<div class="t ax" style="left:960.8px;width:400px;text-align:center;top:579px;font-size:16.2px;transform:scaleX(0.98);transform-origin:50% 0;">14:00</div>
<div style="left:536px;top:612px;width:654px;height:13px;background:#dcdcdc;"></div>
<div style="left:536px;top:612px;width:654px;height:1px;background:#d0d0cc;"></div>
<div class="t ig" style="left:553.6px;top:618px;font-size:13.8px;">Index Graph Last 30 Days</div>
</div>
</body>
</html>
